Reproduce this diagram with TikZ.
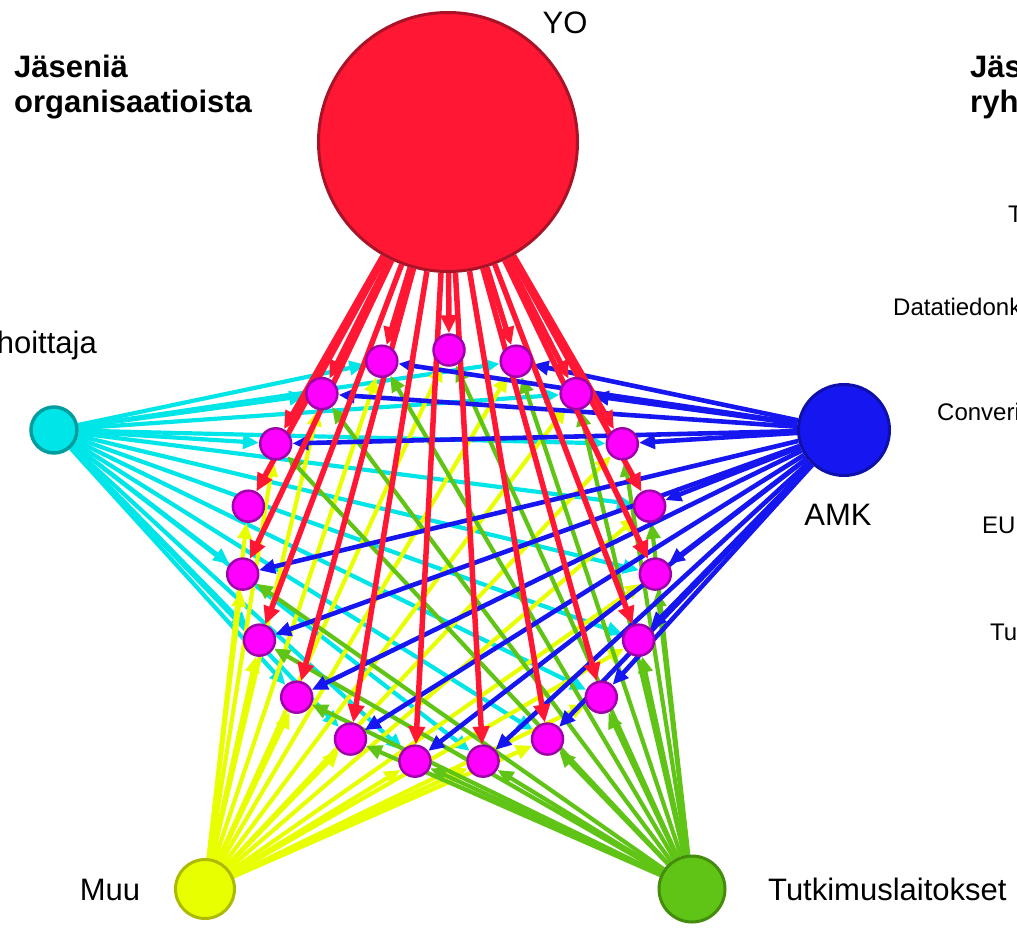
\documentclass[tikz,border=0pt]{standalone}
\usepackage{fontspec}
\setmainfont{Liberation Sans}
\usetikzlibrary{arrows.meta,backgrounds}

\definecolor{yored}{RGB}{255,23,51}
\definecolor{yoedge}{RGB}{170,18,40}
\definecolor{amkblue}{RGB}{22,22,240}
\definecolor{amkedge}{RGB}{15,15,170}
\definecolor{rahcyan}{RGB}{0,230,232}
\definecolor{rahedge}{RGB}{0,158,160}
\definecolor{muuyel}{RGB}{232,255,0}
\definecolor{muuedge}{RGB}{172,186,0}
\definecolor{tutgreen}{RGB}{96,196,22}
\definecolor{tutedge}{RGB}{68,140,12}
\definecolor{memfill}{RGB}{255,0,255}
\definecolor{memedge}{RGB}{160,0,170}

\tikzset{
    member/.style={circle,fill=memfill,draw=memedge,line width=2.5pt,minimum size=31pt,inner sep=0pt},
    org/.style={circle,line width=3pt,inner sep=0pt},
    tie/.style={line width=4.2pt,-{Triangle[length=16pt,width=14pt]}},
    tag/.style={font=\fontsize{31}{35}\selectfont,inner sep=0pt},
    head/.style={font=\bfseries\fontsize{31}{35}\selectfont,inner sep=0pt,anchor=base west},
    keytext/.style={font=\fontsize{24}{28}\selectfont,inner sep=0pt,anchor=base west},
}

\begin{document}
\begin{tikzpicture}[x=1pt,y=-1pt]
        \useasboundingbox (0,0) rectangle (1017,929);

        \node[org,fill=yored,draw=yoedge,minimum size=259pt] (yo) at (448,142) {};
        \node[org,fill=amkblue,draw=amkedge,minimum size=91pt] (amk) at (844,430) {};
        \node[org,fill=rahcyan,draw=rahedge,line width=3.5pt,minimum size=46pt] (rah) at (54,430) {};
        \node[org,fill=muuyel,draw=muuedge,minimum size=59pt] (muu) at (205,889) {};
        \node[org,fill=tutgreen,draw=tutedge,minimum size=66pt] (tutk) at (692,889) {};

        \foreach \i in {1,...,19}
            \node[member] (m\i) at ({449+207*sin((\i-1)*360/19)},{557-207*cos((\i-1)*360/19)}) {};

        \begin{scope}[on background layer]
            \foreach \i in {2,3,4,5,6,7,8,9,10,11,12,13,14,15,17,18,19}
                \draw[tie,rahcyan] (rah) -- (m\i);
            \foreach \i in {1,...,19}
                \draw[tie,muuyel] (muu) -- (m\i);
            \foreach \i in {1,2,3,4,5,6,7,8,9,10,11,12,13,14,15,17,18,19}
                \draw[tie,tutgreen] (tutk) -- (m\i);
            \foreach \i in {2,3,4,5,6,7,8,9,10,11,12,13,14,15,17,18,19}
                \draw[tie,amkblue,line width=4.6pt] (amk) -- (m\i);
            \foreach \i in {1,...,19}
                \draw[tie,yored,line width=5.5pt,-{Triangle[length=18pt,width=16pt]}] (yo) -- (m\i);
        \end{scope}

        \node[tag,anchor=base] (yotag) at (565,33) {YO};
        \node[tag,anchor=base] (amktag) at (838,525) {AMK};
        \node[tag,anchor=base east] (rahtag) at (97,353) {hoittaja};
        \node[tag,anchor=base] (muutag) at (110,900) {Muu};
        \node[tag,anchor=base west] (tutktag) at (768,900) {Tutkimuslaitokset};

        \node[head] (orghead) at (14,77) {Jäseniä};
        \node[head] (orghead2) at (14,112) {organisaatioista};
        \node[head] (grphead) at (970,77) {Jäs};
        \node[head] (grphead2) at (970,112) {ryh};

        \node[keytext] (grp1) at (1008,222) {T};
        \node[keytext] (grp2) at (893,315) {Datatiedonk};
        \node[keytext] (grp3) at (937,420) {Converi};
        \node[keytext] (grp4) at (982,533) {EU};
        \node[keytext] (grp5) at (990,640) {Tu};
    \end{tikzpicture}
\end{document}
